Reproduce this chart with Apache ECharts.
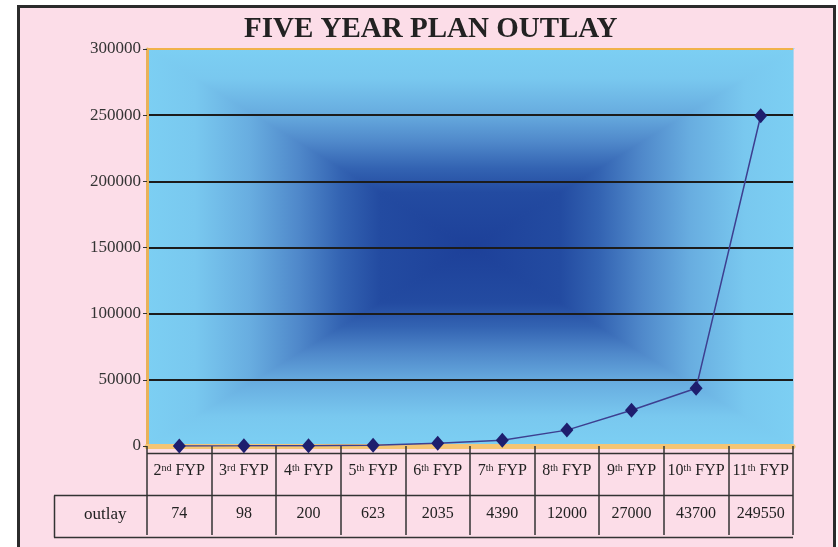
<!DOCTYPE html>
<html>
<head>
    <meta charset="utf-8">
    <title>Five Year Plan Outlay</title>
    <script src="https://cdn.jsdelivr.net/npm/echarts@6/dist/echarts.min.js"></script>
    <style>
        html, body { margin: 0; padding: 0; background: #fff; }
        #main { width: 838px; height: 547px; }
    </style>
</head>
<body>
    <div id="main"></div>
<script>
    // 数据
    var plans = ['2nd FYP', '3rd FYP', '4th FYP', '5th FYP', '6th FYP', '7th FYP', '8th FYP', '9th FYP', '10th FYP', '11th FYP'];
    var outlay = [74, 98, 200, 623, 2035, 4390, 12000, 27000, 43700, 249550];
    var yTicks = { min: 0, max: 300000, step: 50000 };

    // plot area (px)
    var L = 147, R = 793, T = 49, B = 446;
    var cx = (L + R) / 2, cy = (T + B) / 2;
    var serif = '"Liberation Serif", "DejaVu Serif", serif';

    // edge -> center colours of the box gradient
    var stops = [
        { offset: 0, color: '#7ccff3' },
        { offset: 0.15, color: '#79c8ef' },
        { offset: 0.32, color: '#68ade0' },
        { offset: 0.47, color: '#4f88ca' },
        { offset: 0.6, color: '#3363b2' },
        { offset: 0.72, color: '#234ba1' },
        { offset: 1, color: '#1d4099' }
    ];
    function tri(points, x, y, x2, y2) {
        var g = new echarts.graphic.LinearGradient(x, y, x2, y2, stops);
        return { type: 'polygon', z: -20, shape: { points: points }, style: { fill: g, stroke: g, lineWidth: 1.2 } };
    }

    var myChart = echarts.init(document.getElementById('main'), null, { renderer: 'canvas' });

    var option = {
        backgroundColor: '#ffffff',
        animation: false,
        title: {
            text: 'FIVE YEAR PLAN OUTLAY',
            left: 239,
            top: 10,
            textStyle: { fontFamily: serif, fontWeight: 'bold', fontSize: 29, color: '#222' }
        },
        grid: { left: L, right: 838 - R, top: T, bottom: 547 - B },
        graphic: [
            // 外框
            { type: 'rect', z: -30, shape: { x: 18.5, y: 6.5, width: 816, height: 560 },
              style: { fill: '#fcdde8', stroke: '#2b2b2b', lineWidth: 3 } },
            // 背景渐变
            tri([[L, T], [R, T], [cx, cy]], 0, 0, 0, 1),
            tri([[L, B], [R, B], [cx, cy]], 0, 1, 0, 0),
            tri([[L, T], [L, B], [cx, cy]], 0, 0, 1, 0),
            tri([[R, T], [R, B], [cx, cy]], 1, 0, 0, 0),
            // 表格线
            { type: 'line', z: -5, shape: { x1: L, y1: 453.5, x2: R, y2: 453.5 }, style: { stroke: '#333', lineWidth: 1.5 } },
            { type: 'line', z: -5, shape: { x1: 54, y1: 495.5, x2: R, y2: 495.5 }, style: { stroke: '#333', lineWidth: 1.5 } },
            { type: 'line', z: -5, shape: { x1: 54, y1: 537.5, x2: R, y2: 537.5 }, style: { stroke: '#333', lineWidth: 1.5 } },
            { type: 'line', z: -5, shape: { x1: 54.5, y1: 495.5, x2: 54.5, y2: 537.5 }, style: { stroke: '#333', lineWidth: 1.5 } },
            { type: 'text', z: 5, left: 84, top: 506,
              style: { text: 'outlay', font: '17px ' + serif, fill: '#222' } }
        ],
        xAxis: [{
            type: 'category',
            data: plans,
            boundaryGap: true,
            offset: 2,
            axisLine: { lineStyle: { color: '#f5c574', width: 5 } },
            axisTick: { show: true, length: 89, lineStyle: { color: '#333', width: 1.5 } },
            axisLabel: {
                margin: 15,
                interval: 0,
                fontFamily: serif,
                fontSize: 16,
                color: '#222',
                formatter: function (v) {
                    return v.replace(/^(\d+)(st|nd|rd|th)/, '$1{sup|$2}');
                },
                rich: {
                    sup: { fontFamily: serif, fontSize: 10, color: '#222', verticalAlign: 'top', padding: [0, 0, 6, 0] }
                }
            }
        }, {
            type: 'category',
            data: plans,
            position: 'bottom',
            offset: 50,
            axisLine: { show: false },
            axisTick: { show: false },
            axisLabel: {
                margin: 10,
                interval: 0,
                fontFamily: serif,
                fontSize: 16,
                color: '#222',
                formatter: function (v, i) { return String(outlay[i]); }
            }
        }],
        yAxis: {
            type: 'value',
            min: yTicks.min,
            max: yTicks.max,
            interval: yTicks.step,
            axisLine: { show: true, lineStyle: { color: '#e9b25a', width: 3 } },
            axisTick: { show: true, length: 4, lineStyle: { color: '#333' } },
            axisLabel: {
                fontFamily: serif, fontSize: 17, color: '#333', margin: 6,
                formatter: function (v) { return String(v); }
            },
            splitLine: {
                show: true,
                lineStyle: { color: ['#1c1c1c', '#1c1c1c', '#1c1c1c', '#1c1c1c', '#1c1c1c', '#1c1c1c', '#f0b24a'], width: 2 }
            }
        },
        series: [{
            type: 'line',
            data: outlay,
            symbol: 'diamond',
            symbolSize: [13, 15],
            itemStyle: { color: '#1e1e6e' },
            lineStyle: { color: '#3d3f90', width: 1.5 },
            z: 10
        }]
    };
    myChart.setOption(option);
</script>
</body>
</html>
